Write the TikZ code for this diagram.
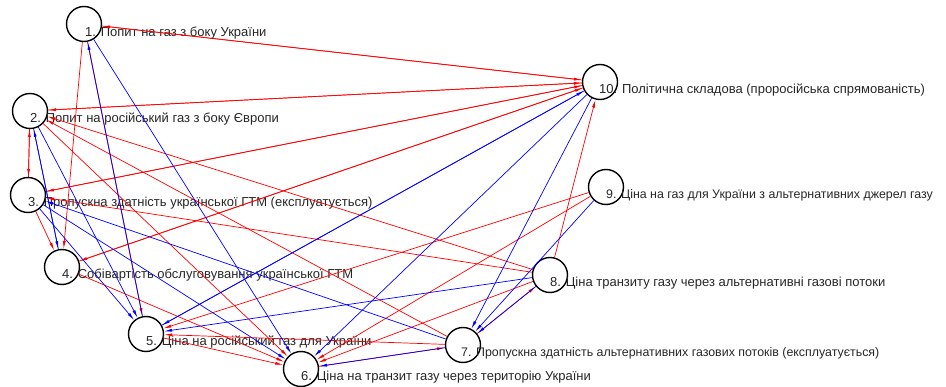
\documentclass[tikz,border=0pt]{standalone}
\usepackage{fontspec}
\setmainfont{Liberation Sans}
\usetikzlibrary{arrows.meta}
\begin{document}
\begin{tikzpicture}[x=1pt,y=-1pt,
  nd/.style={circle,draw=black,line width=1.4pt,minimum size=35pt,inner sep=0pt},
  lb/.style={anchor=west,inner sep=0pt,text=black!85,font=\fontsize{13}{15}\selectfont},
  lbs/.style={lb,font=\fontsize{12.4}{15}\selectfont},
  rr/.style={draw=red,line width=0.7pt,-{Latex[length=8pt,width=3pt]}},
  bb/.style={draw=blue,line width=0.7pt,-{Latex[length=8pt,width=3pt]}},
]
\useasboundingbox (0,0) rectangle (946,387);
% nodes
\node[nd] (n1) at (84,24) {};
\node[nd] (n2) at (30,111) {};
\node[nd] (n3) at (28,195) {};
\node[nd] (n4) at (62,267) {};
\node[nd] (n5) at (146,334) {};
\node[nd] (n6) at (301,369) {};
\node[nd] (n7) at (463,345) {};
\node[nd] (n8) at (550,275) {};
\node[nd] (n9) at (606,187) {};
\node[nd] (n10) at (600,82) {};
% labels
\node[lb] (l1) at (85,33) {1. Попит на газ з боку України};
\node[lb] (l2) at (30,119) {2. Попит на російський газ з боку Європи};
\node[lb] (l3) at (28,203) {3. Пропускна здатність української ГТМ (експлуатується)};
\node[lb] (l4) at (62,275) {4. Собівартість обслуговування української ГТМ};
\node[lb] (l5) at (146,342) {5. Ціна на російський газ для України};
\node[lb] (l6) at (301,377) {6. Ціна на транзит газу через територію України};
\node[lbs] (l7) at (461,353) {7. Пропускна здатність альтернативних газових потоків (експлуатується)};
\node[lb] (l8) at (550,283) {8. Ціна транзиту газу через альтернативні газові потоки};
\node[lbs] (l9) at (606,195) {9. Ціна на газ для України з альтернативних джерел газу};
\node[lb] (l10) at (599,90) {10. Політична складова (проросійська спрямованість)};
% red edges
\draw[rr] (n1) -- (n10);
\draw[rr] (n10) -- (n1);
\draw[rr] (n2) -- (n10);
\draw[rr] (n10) -- (n2);
\draw[rr] (n3) -- (n10);
\draw[rr] (n10) -- (n3);
\draw[rr] (n4) -- (n10);
\draw[rr] (n10) -- (n4);
\draw[rr] (n1) -- (n4);
\draw[rr] (n2) -- (n3);
\draw[rr] (n3) -- (n2);
\draw[rr] (n3) -- (n4);
\draw[rr] (n1) -- (n5);
\draw[rr] (n2) -- (n6);
\draw[rr] (n7) -- (n2);
\draw[rr] (n8) -- (n2);
\draw[rr] (n8) -- (n3);
\draw[rr] (n4) -- (n6);
\draw[rr] (n5) -- (n6);
\draw[rr] (n7) -- (n5);
\draw[rr] (n6) -- (n7);
\draw[rr] (n7) -- (n8);
\draw[rr] (n8) -- (n10);
\draw[rr] (n9) -- (n5);
\draw[rr] (n9) -- (n6);
\draw[rr] (n8) -- (n6);
% blue edges
\draw[bb] (n5) -- (n1);
\draw[bb] (n1) -- (n6);
\draw[bb] (n2) -- (n4);
\draw[bb] (n4) -- (n2);
\draw[bb] (n2) -- (n5);
\draw[bb] (n3) -- (n5);
\draw[bb] (n8) -- (n5);
\draw[bb] (n10) -- (n5);
\draw[bb] (n5) -- (n10);
\draw[bb] (n10) -- (n6);
\draw[bb] (n10) -- (n7);
\draw[bb] (n9) -- (n7);
\draw[bb] (n8) -- (n7);
\draw[bb] (n7) -- (n3);
\draw[bb] (n7) -- (n6);
\draw[bb] (n3) -- (n6);
\end{tikzpicture}
\end{document}
